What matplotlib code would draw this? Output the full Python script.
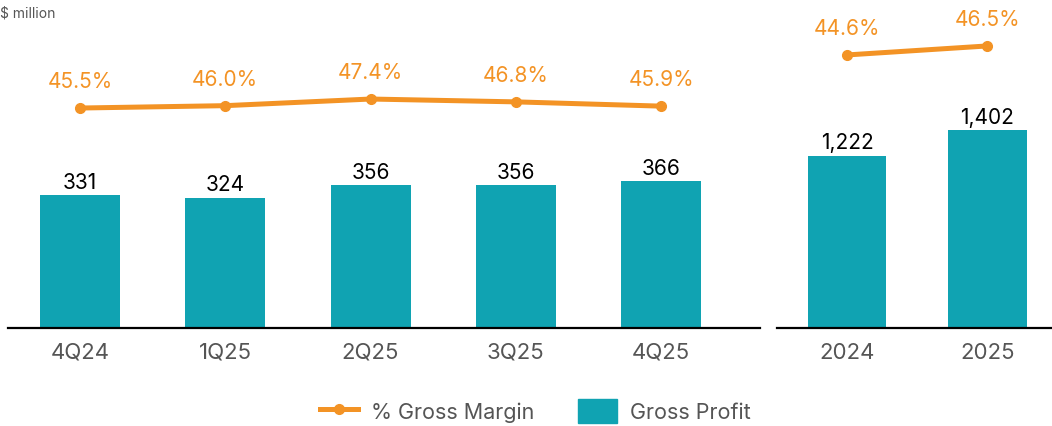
import matplotlib.pyplot as plt
from matplotlib.lines import Line2D
from matplotlib.patches import Patch

plt.rcParams["font.family"] = ["Inter", "DejaVu Sans"]

quarters = ["4Q24", "1Q25", "2Q25", "3Q25", "4Q25"]
q_profit = [331, 324, 356, 356, 366]
q_margin = [45.5, 46.0, 47.4, 46.8, 45.9]

years = ["2024", "2025"]
y_profit = [1222, 1402]
y_margin = [44.6, 46.5]

teal = "#10A3B2"
orange = "#F39325"
gray = "#555555"

fig = plt.figure(figsize=(10.52, 4.27), dpi=100)
W, H = 1052, 427
bottom = (H - 329) / H
height = 329 / H

ax1 = fig.add_axes([8 / W, bottom, (760 - 8) / W, height])
ax2 = fig.add_axes([777 / W, bottom, (1052 - 777) / W, height])


def panel(ax, cats, profit, margin, xlim, ylim, mlim, width):
    x = range(len(cats))
    ax.bar(x, profit, width=width, color=teal, zorder=2)
    for xi, v in zip(x, profit):
        ax.text(xi, v + ylim[1] * 0.01, f"{v:,}", ha="center", va="bottom",
                fontsize=15, color="black")
    ax.set_xlim(*xlim)
    ax.set_ylim(*ylim)
    ax.set_xticks(list(x))
    ax.set_xticklabels(cats, fontsize=16, color=gray)
    ax.tick_params(axis="x", length=0, pad=10)
    ax.set_yticks([])
    for s in ["top", "right", "left"]:
        ax.spines[s].set_visible(False)
    ax.spines["bottom"].set_linewidth(1.6)
    ax.spines["bottom"].set_color("black")

    tw = ax.twinx()
    tw.plot(list(x), margin, color=orange, lw=3.6, marker="o", ms=7, zorder=3)
    for xi, m in zip(x, margin):
        tw.text(xi, m + 3.6, f"{m:.1f}%", ha="center", va="bottom",
                fontsize=15, color=orange)
    tw.set_ylim(*mlim)
    tw.set_yticks([])
    tw.axis("off")


panel(ax1, quarters, q_profit, q_margin, (-0.495, 4.68), (0, 818), (-0.9, 68.5), 0.55)
panel(ax2, years, y_profit, y_margin, (-0.5, 1.46), (0, 2333), (-13.0, 56.4), 0.557)

fig.text(0.0, 0.985, "$ million", fontsize=10, color=gray, va="top", ha="left")

handles = [
    Line2D([0], [0], color=orange, lw=3.6, marker="o", ms=7),
    Patch(color=teal),
]
fig.legend(handles, ["% Gross Margin", "Gross Profit"], loc="center",
           bbox_to_anchor=(535 / W, (H - 412) / H), ncol=2, frameon=False,
           fontsize=15.5, labelcolor=gray, handlelength=1.8, handleheight=1.3,
           columnspacing=2.0, handletextpad=0.6)

fig.savefig("out.png", dpi=100)
